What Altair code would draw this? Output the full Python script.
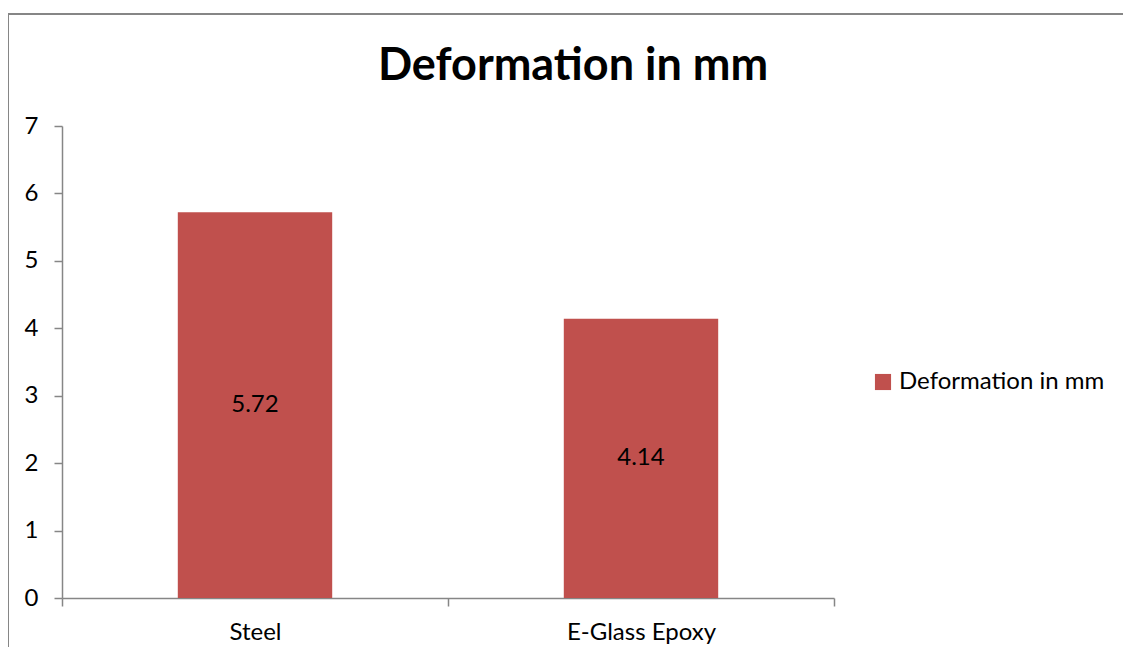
import altair as alt
import pandas as pd

categories = ["Steel", "E-Glass Epoxy"]
values = [5.72, 4.14]
series_name = "Deformation in mm"
title_text = "Deformation in mm"

df = pd.DataFrame({"material": categories, "value": values, "series": [series_name] * len(values)})

W, H = 772, 472
FONT = "Lato"

base = alt.Chart(df)

bars = base.mark_bar(width=alt.RelativeBandSize(0.4)).encode(
    x=alt.X("material:N", sort=categories,
            scale=alt.Scale(paddingInner=0, paddingOuter=0),
            axis=alt.Axis(title=None, labelAngle=0, tickBand="extent", tickSize=8,
                          labelPadding=14, labelFontSize=24, labelFont=FONT, labelColor="#000000",
                          domainColor="#868686", tickColor="#868686", domainWidth=1.5, tickWidth=1.5)),
    y=alt.Y("value:Q", scale=alt.Scale(domain=[0, 7]),
            axis=alt.Axis(title=None, values=[0, 1, 2, 3, 4, 5, 6, 7], format="d", grid=False, tickSize=8,
                          labelPadding=16, labelFontSize=24, labelFont=FONT, labelColor="#000000",
                          domainColor="#868686", tickColor="#868686", domainWidth=1.5, tickWidth=1.5)),
    color=alt.Color("series:N", scale=alt.Scale(range=["#C0504D"]),
                    legend=alt.Legend(title=None, orient="none", legendX=809, legendY=244,
                                      symbolType="square", symbolSize=260, symbolStrokeWidth=0,
                                      labelFontSize=24, labelFont=FONT, labelColor="#000000",
                                      labelOffset=4, labelLimit=400)),
)

labels = base.transform_calculate(mid="datum.value / 2").mark_text(
    fontSize=24, font=FONT, color="#000000", baseline="middle"
).encode(
    x=alt.X("material:N", sort=categories),
    y=alt.Y("mid:Q"),
    text=alt.Text("value:Q", format=".2f"),
)

frame = alt.Chart(pd.DataFrame({"k": [0]})).mark_rect(
    fill=None, stroke="#868686", strokeWidth=2
).encode(
    x=alt.value(-54), x2=alt.value(W + 400), y=alt.value(-112), y2=alt.value(H + 200)
)

title = alt.Chart(pd.DataFrame({"t": [title_text]})).mark_text(
    font=FONT, fontSize=45, fontWeight="bold", color="#000000", align="center", baseline="alphabetic"
).encode(
    text="t:N", x=alt.value(W / 2 + 125), y=alt.value(-46)
)

chart = alt.layer(frame, bars, labels, title).properties(
    width=W, height=H,
    autosize=alt.AutoSizeParams(type="none"),
    padding={"left": 54, "top": 118, "right": 289, "bottom": 49},
).configure_view(stroke=None)

chart.save("out.html", embed_options={"renderer": "svg", "actions": False})
